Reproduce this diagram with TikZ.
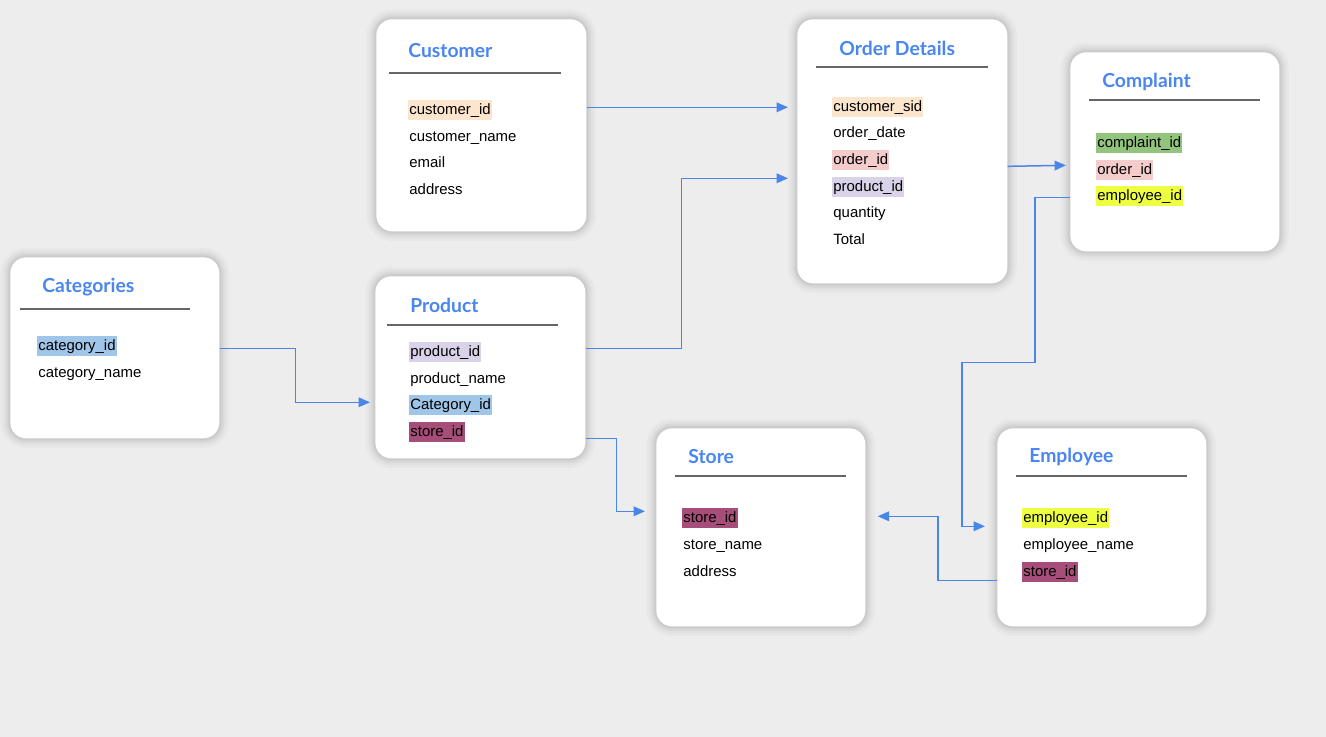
\documentclass[tikz,border=0pt]{standalone}
\usepackage{fontspec}
\setmainfont{Liberation Sans}
\newfontfamily\headfont{Lato}
\usetikzlibrary{positioning,arrows.meta,calc}
\definecolor{bg}     {RGB}{237,237,237}
\definecolor{linkblue}{RGB}{74,134,232}
\definecolor{headblue}{RGB}{74,134,240}
\definecolor{peach}  {RGB}{252,229,205}
\definecolor{rose}   {RGB}{244,204,204}
\definecolor{lilac}  {RGB}{217,210,233}
\definecolor{sky}    {RGB}{159,197,232}
\definecolor{plum}   {RGB}{166, 77,121}
\definecolor{leaf}   {RGB}{147,196,125}
\definecolor{lime}   {RGB}{238,255, 65}

\begin{document}
\begin{tikzpicture}[
  x=0.02cm, y=-0.02cm,
  font={\fontsize{8.5}{10}\selectfont},
  entity/.style={anchor=north west,fill=white,rounded corners=9pt,minimum width=4.2cm,
    preaction={draw=black,draw opacity=0.025,line width=11pt},
    preaction={draw=black,draw opacity=0.025,line width=8pt},
    preaction={draw=black,draw opacity=0.03,line width=5.5pt},
    preaction={draw=black,draw opacity=0.03,line width=3.5pt},
    preaction={draw=black,draw opacity=0.03,line width=2pt}},
  heading/.style={anchor=west,inner sep=0pt,yshift=-1pt,text=headblue,font={\headfont\bfseries\fontsize{11}{12}\selectfont}},
  hrule/.style={draw=black!60,line width=0.6pt},
  field/.style={anchor=west,inner xsep=0.6pt,inner ysep=1.6pt,yshift=-1.3pt,text height=6.3pt,text depth=1.8pt},
  fk/.style={draw=linkblue,line width=0.85pt,-{Triangle[length=6.5pt,width=5.5pt]}},
]

  % Background
  \fill[bg] (0,0) rectangle (1326,737);

  % Customer
  \node[entity,minimum height=4.24cm] (customer) at (376,19) {};
  \node[heading] (customer-head) at (408,49) {Customer};
  \draw[hrule] (389,73) -- (561,73);
  \node[field,fill=peach] (cust-id) at (408,108) {customer\_id};
  \node[field] (cust-name) at (408,135) {customer\_name};
  \node[field] (cust-mail) at (408,161) {email};
  \node[field] (cust-addr) at (408,188) {address};

  % Order Details
  \node[entity,minimum height=5.28cm] (orders) at (797,19) {};
  \node[heading] (orders-head) at (839,47) {Order Details};
  \draw[hrule] (816,67) -- (988,67);
  \node[field,fill=peach] (ord-cust) at (832,105) {customer\_sid};
  \node[field] (ord-date) at (832,131) {order\_date};
  \node[field,fill=rose] (ord-id) at (832,158) {order\_id};
  \node[field,fill=lilac] (ord-prod) at (832,185) {product\_id};
  \node[field] (ord-qty) at (832,211) {quantity};
  \node[field] (ord-total) at (832,238) {Total};

  % Complaint
  \node[entity,minimum height=3.98cm,minimum width=4.18cm] (complaint) at (1070,52) {};
  \node[heading] (complaint-head) at (1102,80) {Complaint};
  \draw[hrule] (1089,100) -- (1260,100);
  \node[field,fill=leaf] (comp-id) at (1096,141) {complaint\_id};
  \node[field,fill=rose] (comp-ord) at (1096,168) {order\_id};
  \node[field,fill=lime] (comp-emp) at (1096,194) {employee\_id};

  % Categories
  \node[entity,minimum height=3.62cm,minimum width=4.18cm] (categories) at (10,257) {};
  \node[heading] (categories-head) at (42,285) {Categories};
  \draw[hrule] (20,309) -- (190,309);
  \node[field,fill=sky] (cat-id) at (37,344) {category\_id};
  \node[field] (cat-name) at (37,371) {category\_name};

  % Product
  \node[entity,minimum height=3.64cm] (product) at (375,276) {};
  \node[heading] (product-head) at (410,304) {Product};
  \draw[hrule] (387,325) -- (558,325);
  \node[field,fill=lilac] (prod-id) at (409,350) {product\_id};
  \node[field] (prod-name) at (409,377) {product\_name};
  \node[field,fill=sky] (prod-cat) at (409,403) {Category\_id};
  \node[field,fill=plum] (prod-store) at (409,430) {store\_id};

  % Store
  \node[entity,minimum height=3.96cm,minimum width=4.18cm] (store) at (656,428) {};
  \node[heading] (store-head) at (688,455) {Store};
  \draw[hrule] (675,476) -- (846,476);
  \node[field,fill=plum] (store-id) at (682,516) {store\_id};
  \node[field] (store-name) at (682,543) {store\_name};
  \node[field] (store-addr) at (682,570) {address};

  % Employee
  \node[entity,minimum height=3.96cm,minimum width=4.18cm] (employee) at (997,428) {};
  \node[heading] (employee-head) at (1029,455) {Employee};
  \draw[hrule] (1016,476) -- (1187,476);
  \node[field,fill=lime] (emp-id) at (1022,516) {employee\_id};
  \node[field] (emp-name) at (1022,543) {employee\_name};
  \node[field,fill=plum] (emp-store) at (1022,570) {store\_id};

  % Keys
  \draw[fk] ($(customer.east |- cust-id)+(0,-3)$) -- ($(orders.west |- cust-id)+(-9,-3)$);
  \draw[fk] ($(product.east |- prod-id)+(0,-4)$) -- ++(96,0) |- ($(orders.west |- ord-prod)+(-9,-9)$);
  \draw[fk] ($(categories.east |- cat-id)+(0,2)$) -- ++(76,0) |- ($(product.west |- prod-cat)+(-5,-3)$);
  \draw[fk] ($(product.east |- prod-store)+(0,6)$) -- ++(31,0) |- ($(store.west |- store-id)+(-11,-7)$);
  \draw[fk] ($(orders.east)+(0,15)$) -- ($(complaint.west |- orders.east)+(-4,14)$);
  \draw[fk] ($(complaint.west |- comp-emp)+(0,1)$) -- ++(-35,0) -- ++(0,165) -| ($(employee.west |- emp-id)+(-35,8)$) -- ($(employee.west |- emp-id)+(-12,8)$);
  \draw[fk] ($(employee.west |- emp-store)+(0,8)$) -- ++(-59,0) |- ($(store.east |- store-id)+(12,-2)$);

\end{tikzpicture}
\end{document}
